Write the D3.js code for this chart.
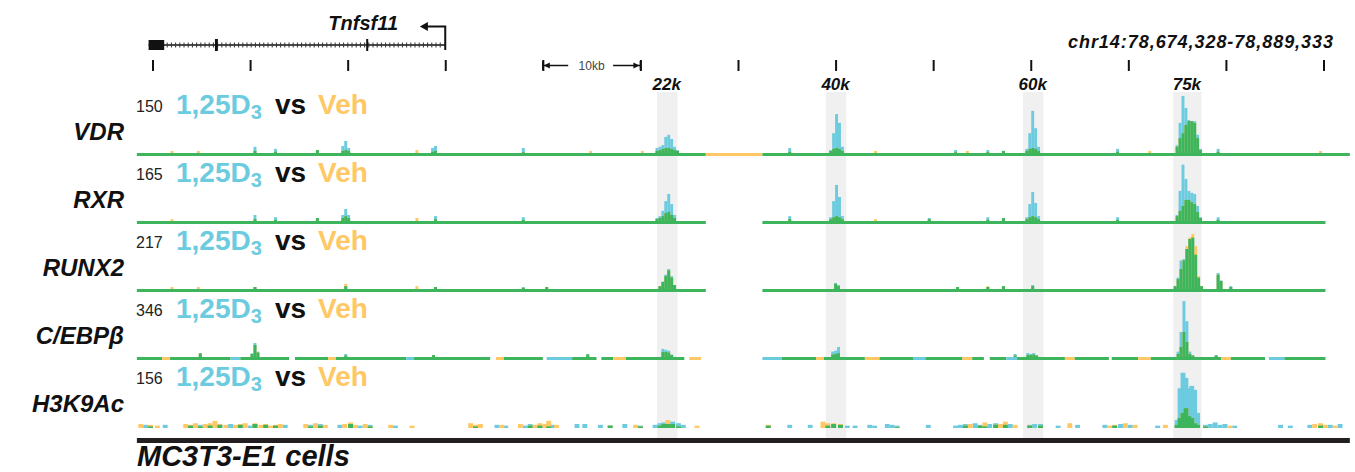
<!DOCTYPE html>
<html>
<head>
<meta charset="utf-8">
<script src="https://cdn.jsdelivr.net/npm/d3@7"></script>
<style>
  body { margin: 0; background: #fff; }
  svg { display: block; font-family: 'Liberation Sans', Arial, sans-serif; }
</style>
</head>
<body>
<svg width="1355" height="472"></svg>
<script>
// ---- data (positions in kb relative to the Tnfsf11 TSS) ----
const trackNames = ['VDR', 'RXR', 'RUNX2', 'C/EBPβ', 'H3K9Ac'];
const trackMax = [150, 165, 217, 346, 156];
const regionLabels = ['22k', '40k', '60k', '75k'];
const regionCenter = [22.7, 40.0, 60.2, 76.0];
const regionStart = [21.7, 39.0, 59.2, 74.6];
const regionEnd = [23.8, 41.1, 61.3, 77.5];
const geneExons = [[-30.4, -28.8, 10], [-23.6, -23.3, 12], [-8.1, -7.9, 12]];
const coordLabel = 'chr14:78,674,328-78,889,333';

// bins: [kb, 1,25D3 signal, vehicle signal]
const vdrBins = [
  [-28.0, 0, 5], [-25.3, 0, 5], [-19.5, 15, 5], [-17.4, 10, 3], [-13.1, 7, 7],
  [-10.5, 17, 5], [-10.2, 29, 7], [-9.9, 12, 5], [-2.9, 0, 7], [-1.3, 12, 3], [-1.0, 17, 5],
  [8.0, 12, 2], [14.9, 0, 5], [20.2, 0, 5],
  [21.7, 12, 5], [22.0, 15, 7], [22.3, 19, 10], [22.6, 39, 12], [22.9, 44, 12], [23.2, 34, 10], [23.5, 15, 7], [23.8, 7, 5],
  [35.3, 12, 3],
  [39.5, 7, 5], [39.8, 48, 10], [40.1, 94, 12], [40.4, 73, 10], [40.7, 15, 5],
  [44.1, 0, 5], [52.3, 7, 2], [53.5, 0, 5], [55.6, 7, 2], [57.2, 5, 5],
  [59.6, 10, 5], [59.9, 48, 10], [60.2, 102, 12], [60.5, 60, 10], [60.8, 15, 5],
  [68.9, 10, 3], [72.2, 0, 5],
  [75.0, 19, 15], [75.3, 73, 36], [75.6, 138, 48], [75.9, 109, 68], [76.2, 80, 77], [76.5, 77, 77], [76.8, 77, 73], [77.1, 44, 36], [77.4, 10, 7],
  [79.2, 10, 3], [89.7, 0, 5]
];
const rxrBins = [
  [-28.0, 0, 5], [-19.5, 16, 5], [-17.4, 10, 3], [-13.1, 8, 8],
  [-10.5, 16, 8], [-10.2, 32, 13], [-9.9, 16, 8], [-2.9, 0, 8], [-1.0, 13, 5], [8.0, 10, 3],
  [21.7, 8, 5], [22.0, 13, 8], [22.3, 27, 13], [22.6, 53, 21], [22.9, 72, 24], [23.2, 45, 16], [23.5, 16, 8],
  [35.3, 13, 5],
  [39.5, 10, 5], [39.8, 53, 10], [40.1, 96, 13], [40.4, 64, 10], [40.7, 13, 5],
  [44.1, 0, 5], [49.6, 8, 5], [55.6, 10, 3], [57.2, 8, 8],
  [59.6, 10, 5], [59.9, 45, 10], [60.2, 77, 13], [60.5, 48, 10], [60.8, 13, 5],
  [68.9, 10, 3],
  [75.0, 16, 13], [75.3, 80, 27], [75.6, 150, 40], [75.9, 112, 56], [76.2, 80, 56], [76.5, 75, 50], [76.8, 72, 45], [77.1, 40, 24], [77.4, 10, 8],
  [79.2, 10, 3]
];
const runx2Bins = [
  [-28.0, 0, 7], [-25.3, 0, 7], [-19.5, 7, 7], [-10.2, 10, 18], [-2.9, 0, 10], [-1.0, 7, 7],
  [8.0, 7, 4], [10.4, 7, 7],
  [22.0, 10, 10], [22.3, 25, 25], [22.6, 50, 45], [22.9, 70, 65], [23.2, 45, 40], [23.5, 14, 14],
  [40.0, 21, 18], [40.3, 14, 10],
  [52.5, 7, 7], [55.6, 7, 10], [57.2, 10, 10], [60.2, 14, 10],
  [74.8, 10, 10], [75.1, 40, 35], [75.4, 100, 70], [75.7, 105, 100], [76.0, 140, 150], [76.3, 175, 180], [76.6, 180, 193], [76.9, 120, 150], [77.2, 40, 45], [77.5, 10, 10],
  [79.2, 56, 50], [79.5, 30, 28], [80.5, 10, 7]
];
const cebpbBins = [
  [-25.1, 22, 20], [-19.8, 20, 17], [-19.5, 78, 67], [-19.2, 30, 25], [-10.2, 17, 8], [-1.2, 11, 11],
  [14.6, 17, 14],
  [22.3, 45, 28], [22.6, 40, 28], [22.9, 35, 25], [23.2, 14, 11],
  [39.7, 30, 14], [40.0, 35, 17], [40.3, 56, 22],
  [58.4, 17, 8],
  [59.7, 22, 11], [60.0, 17, 11], [60.3, 22, 14], [60.6, 11, 8],
  [75.1, 30, 17], [75.4, 140, 56], [75.7, 312, 140], [76.0, 200, 84], [76.3, 30, 17], [76.6, 11, 8],
  [79.0, 11, 8]
];
const h3k9acBins = [
  [-31.2, 0, 10], [-30.7, 8, 0], [-30.2, 4, 8], [-29.5, 0, 6], [-28.7, 8, 0],
  [-26.6, 0, 10], [-26.1, 6, 8], [-25.6, 0, 12], [-25.1, 8, 4], [-24.6, 0, 10], [-24.1, 6, 12],
  [-23.6, 0, 18], [-23.1, 8, 10], [-22.5, 0, 8], [-22.0, 10, 0],
  [-21.5, 0, 8], [-21.0, 8, 10], [-20.5, 0, 12], [-20.0, 6, 0], [-19.5, 10, 12], [-18.9, 0, 8],
  [-18.4, 8, 10], [-17.9, 0, 6], [-17.4, 6, 8], [-16.9, 0, 10], [-16.4, 8, 0],
  [-14.3, 0, 10], [-13.8, 8, 4], [-13.3, 0, 12], [-12.8, 10, 6], [-12.3, 0, 8],
  [-10.8, 8, 0], [-10.3, 0, 10], [-9.7, 10, 14], [-9.2, 0, 8], [-8.7, 6, 0], [-8.2, 0, 10], [-7.7, 8, 4],
  [-5.6, 0, 8], [-5.1, 6, 0], [-3.4, 0, 6],
  [2.6, 0, 12], [3.1, 4, 8], [3.6, 0, 10], [5.3, 8, 0], [5.8, 0, 8], [6.2, 6, 0],
  [7.7, 0, 10], [8.2, 6, 0], [8.7, 10, 6], [9.2, 0, 8], [9.7, 6, 12], [10.2, 0, 10], [10.6, 4, 18], [11.0, 8, 0], [11.4, 0, 8],
  [13.5, 10, 0], [14.3, 10, 0], [15.9, 8, 0], [16.9, 6, 6], [18.4, 10, 0], [19.5, 0, 8], [20.0, 6, 4],
  [21.5, 8, 0], [22.0, 12, 6], [22.4, 14, 10], [22.8, 10, 20], [23.3, 16, 10], [23.9, 12, 4], [24.4, 8, 0], [25.8, 0, 6],
  [33.1, 6, 8], [35.3, 8, 0], [37.4, 8, 0], [38.7, 0, 16], [39.2, 6, 12], [39.8, 10, 12], [40.5, 8, 10], [41.2, 6, 0],
  [42.0, 6, 0], [43.5, 8, 0], [44.0, 6, 0], [45.3, 10, 0], [45.8, 8, 0], [46.3, 6, 2], [49.5, 8, 0],
  [52.3, 6, 0], [52.8, 8, 0], [53.3, 10, 6], [53.8, 0, 10], [54.3, 12, 0], [54.8, 8, 6], [55.3, 4, 14], [55.8, 10, 0],
  [56.4, 12, 8], [56.9, 0, 10], [57.4, 8, 16], [57.9, 10, 0], [58.4, 0, 8],
  [59.9, 8, 6], [60.4, 10, 0], [61.0, 10, 6], [62.8, 6, 0], [64.0, 0, 12], [64.8, 8, 0],
  [67.6, 8, 0], [68.1, 0, 6], [68.6, 6, 8], [69.2, 10, 0], [69.7, 0, 12], [70.2, 8, 0], [70.7, 0, 8],
  [73.0, 6, 0], [73.8, 0, 8],
  [75.0, 20, 8], [75.3, 100, 25], [75.6, 139, 38], [75.9, 126, 50], [76.2, 100, 30], [76.5, 106, 25], [76.8, 96, 12], [77.1, 38, 8],
  [77.9, 8, 4], [78.4, 10, 0], [78.9, 14, 0], [79.4, 8, 0], [79.9, 10, 0], [80.4, 0, 6], [80.9, 6, 0],
  [85.6, 8, 0], [86.6, 6, 0],
  [88.6, 8, 0], [89.1, 0, 10], [89.7, 6, 12], [90.2, 0, 8], [90.7, 8, 0], [91.2, 0, 6], [91.7, 10, 0]
];
const trackBins = [vdrBins, rxrBins, runx2Bins, cebpbBins, h3k9acBins];

// baseline coverage: [startKb, endKb, who] g = both, o = vehicle only, b = 1,25D3 only
const vdrCover = [[-31.6, 26.7, 'g'], [26.7, 32.5, 'o'], [32.5, 92.7, 'g']];
const rxrCover = [[-31.6, 26.7, 'g'], [32.5, 90.2, 'g']];
const runx2Cover = [[-31.6, 26.7, 'g'], [32.5, 90.2, 'g']];
const cebpbCover = [
  [-31.6, -29.0, 'g'], [-29.0, -28.2, 'o'], [-28.2, -22.0, 'g'], [-22.0, -21.0, 'b'], [-21.0, -16.0, 'g'],
  [-15.4, -12.0, 'g'], [-12.0, -11.2, 'o'], [-11.2, -4.0, 'g'], [-4.0, -3.2, 'b'], [-3.2, 4.6, 'g'],
  [5.2, 6.0, 'o'], [6.0, 10.0, 'g'], [10.4, 13.0, 'b'], [13.0, 15.5, 'g'], [16.0, 17.2, 'g'], [17.2, 18.5, 'o'],
  [18.5, 24.5, 'g'], [25.0, 26.2, 'o'],
  [32.5, 34.5, 'b'], [34.5, 38.0, 'g'], [38.0, 38.8, 'o'], [38.8, 43.0, 'g'], [43.0, 44.5, 'o'], [44.5, 48.0, 'g'],
  [48.0, 49.2, 'b'], [49.2, 53.0, 'g'], [53.0, 54.0, 'o'], [54.0, 55.2, 'g'], [55.8, 57.5, 'g'], [57.5, 58.6, 'b'],
  [58.6, 63.5, 'g'], [63.5, 64.5, 'o'], [64.5, 68.0, 'g'], [68.3, 71.0, 'g'], [71.0, 72.3, 'o'], [72.3, 75.0, 'g'],
  [75.0, 79.5, 'g'], [79.5, 80.5, 'o'], [80.5, 84.0, 'g'], [84.4, 86.0, 'b'], [86.0, 90.2, 'g']
];
const h3k9acCover = [];
const trackCover = [vdrCover, rxrCover, runx2Cover, cebpbCover, h3k9acCover];

// ---- drawing ----
const blue = '#6ccbde', orange = '#ffc864', green = '#3cb55c';
const coverColor = { g: green, o: orange, b: blue };

const svg = d3.select('svg');
const x = d3.scaleLinear().domain([-30, 90]).range([152.5, 1323.5]);
const trackLeft = -31.6, trackRight = 92.7;
const baseY = [156, 224, 292, 360, 428];
const trackH = 62;
const lineW = [3, 3, 3, 3, 0];
const binKb = [0.3, 0.3, 0.3, 0.3, 0.5];

// grey highlight bands
svg.append('g').selectAll('rect')
  .data(regionLabels)
  .enter().append('rect')
    .attr('x', (d, i) => x(regionStart[i]))
    .attr('width', (d, i) => x(regionEnd[i]) - x(regionStart[i]))
    .attr('y', 92)
    .attr('height', 346)
    .attr('fill', '#f0f0f0');

svg.append('g').selectAll('text')
  .data(regionLabels)
  .enter().append('text')
    .attr('x', (d, i) => x(regionCenter[i]))
    .attr('y', 90)
    .attr('text-anchor', 'middle')
    .attr('font-size', 17)
    .attr('font-weight', 'bold')
    .attr('font-style', 'italic')
    .attr('fill', '#111')
    .text(d => d);

// coordinate ticks
const axisG = svg.append('g')
  .attr('transform', 'translate(0,60)')
  .call(d3.axisBottom(x).tickValues(x.ticks(12)).tickSize(11).tickFormat(''));
axisG.select('.domain').remove();
axisG.selectAll('.tick line').attr('stroke', '#111').attr('stroke-width', 2);

svg.append('text')
  .attr('x', 1333)
  .attr('y', 48)
  .attr('text-anchor', 'end')
  .attr('font-size', 18)
  .attr('font-weight', 'bold')
  .attr('font-style', 'italic')
  .attr('fill', '#111')
  .attr('textLength', 265)
  .text(coordLabel);

// scale bar 10kb
const sb = svg.append('g').attr('stroke', '#111').attr('stroke-width', 1.5);
sb.append('line').attr('x1', x(10)).attr('x2', x(10)).attr('y1', 61).attr('y2', 70);
sb.append('line').attr('x1', x(20)).attr('x2', x(20)).attr('y1', 61).attr('y2', 70);
sb.append('line').attr('x1', x(10)).attr('x2', x(12.6)).attr('y1', 65.5).attr('y2', 65.5);
sb.append('line').attr('x1', x(17.2)).attr('x2', x(20)).attr('y1', 65.5).attr('y2', 65.5);
sb.append('path').attr('d', `M${x(10) + 1},65.5 l6,-3 v6 z`).attr('fill', '#111').attr('stroke', 'none');
sb.append('path').attr('d', `M${x(20) - 1},65.5 l-6,-3 v6 z`).attr('fill', '#111').attr('stroke', 'none');
svg.append('text')
  .attr('x', x(15)).attr('y', 69.5)
  .attr('text-anchor', 'middle')
  .attr('font-size', 12)
  .attr('fill', '#444')
  .text('10kb');

// gene model
const gene = svg.append('g');
gene.append('line')
  .attr('x1', x(geneExons[0][0])).attr('x2', x(0))
  .attr('y1', 45).attr('y2', 45)
  .attr('stroke', '#111').attr('stroke-width', 1.5);
gene.selectAll('.hatch')
  .data(d3.range(x(geneExons[0][1]) + 3, x(0) - 2, 4.2))
  .enter().append('line')
    .attr('x1', d => d).attr('x2', d => d)
    .attr('y1', 42.5).attr('y2', 47.5)
    .attr('stroke', '#333').attr('stroke-width', 1);
gene.selectAll('.exon')
  .data(geneExons)
  .enter().append('rect')
    .attr('x', d => x(d[0]))
    .attr('width', d => Math.max(2, x(d[1]) - x(d[0])))
    .attr('y', d => 45 - d[2] / 2)
    .attr('height', d => d[2])
    .attr('fill', '#111');
gene.append('path')
  .attr('d', `M${x(0)},50 V26.5 H${x(-2.2)}`)
  .attr('fill', 'none').attr('stroke', '#111').attr('stroke-width', 2);
gene.append('path')
  .attr('d', `M${x(-2.6)},26.5 l8,-4.5 v9 z`)
  .attr('fill', '#111');
gene.append('text')
  .attr('x', 398).attr('y', 30)
  .attr('text-anchor', 'end')
  .attr('font-size', 20)
  .attr('font-weight', 'bold')
  .attr('font-style', 'italic')
  .attr('fill', '#111')
  .text('Tnfsf11');

// tracks
trackNames.forEach((name, i) => {
  const g = svg.append('g');
  const base = baseY[i];
  const y = d3.scaleLinear().domain([0, trackMax[i]]).range([0, trackH]);
  const top = base - lineW[i];
  const w = x(binKb[i]) - x(0);

  g.selectAll('.cover')
    .data(trackCover[i])
    .enter().append('rect')
      .attr('x', d => x(d[0]))
      .attr('width', d => x(d[1]) - x(d[0]))
      .attr('y', top)
      .attr('height', lineW[i])
      .attr('fill', d => coverColor[d[2]]);

  const bins = trackBins[i];
  const layer = (val, color) => g.append('g').selectAll('rect')
    .data(bins)
    .enter().append('rect')
      .attr('x', d => x(d[0]) - w / 2)
      .attr('width', w)
      .attr('y', d => top - y(val(d)))
      .attr('height', d => y(val(d)))
      .attr('fill', color);
  layer(d => d[1], blue);
  layer(d => d[2], orange);
  layer(d => Math.min(d[1], d[2]), green);

  // header
  const hy = base - 42;
  g.append('text').attr('x', 136).attr('y', hy - 2)
    .attr('font-size', 16).attr('fill', '#222').text(trackMax[i]);
  const hdr = g.append('text').attr('x', 176).attr('y', hy)
    .attr('font-size', 28).attr('font-weight', 'bold');
  hdr.append('tspan').attr('fill', blue).text('1,25D');
  hdr.append('tspan').attr('font-size', 20).attr('fill', blue).attr('dy', 5).text('3');
  g.append('text').attr('x', 275).attr('y', hy)
    .attr('font-size', 28).attr('font-weight', 'bold').attr('fill', '#111').text('vs');
  g.append('text').attr('x', 318).attr('y', hy)
    .attr('font-size', 28).attr('font-weight', 'bold').attr('fill', orange).text('Veh');

  g.append('text')
    .attr('x', 124)
    .attr('y', base - 16)
    .attr('text-anchor', 'end')
    .attr('font-size', 24)
    .attr('font-weight', 'bold')
    .attr('font-style', 'italic')
    .attr('fill', '#111')
    .text(name);
});

// bottom bar and cell label
svg.append('rect')
  .attr('x', x(trackLeft)).attr('width', x(trackRight) - x(trackLeft))
  .attr('y', 438).attr('height', 5)
  .attr('fill', '#231f20');
svg.append('text')
  .attr('x', 137).attr('y', 466)
  .attr('font-size', 29)
  .attr('font-weight', 'bold')
  .attr('font-style', 'italic')
  .attr('fill', '#111')
  .text('MC3T3-E1 cells');
</script>
</body>
</html>
